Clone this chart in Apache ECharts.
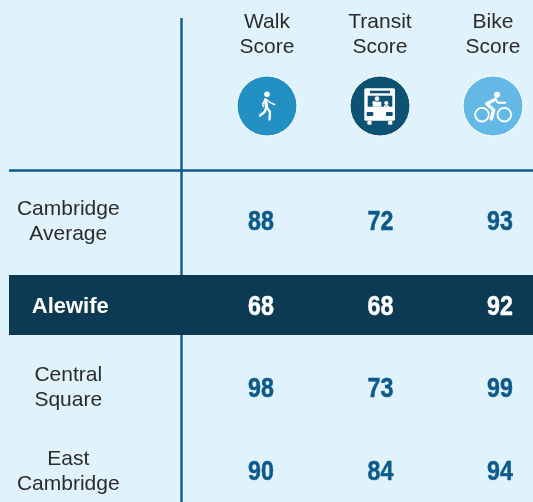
<!DOCTYPE html>
<html>
<head>
<meta charset="utf-8">
<script src="https://cdn.jsdelivr.net/npm/echarts@6/dist/echarts.min.js"></script>
<style>
  html, body { margin: 0; padding: 0; background: #e0f3fc; }
  #div1 { width: 533px; height: 502px; }
</style>
</head>
<body>
<div id="div1"></div>
<script>
var headers = ['Walk\nScore', 'Transit\nScore', 'Bike\nScore'];
var columns = ['Walk', 'Transit', 'Bike'];
var rows = ['Cambridge\nAverage', 'Alewife', 'Central\nSquare', 'East\nCambridge'];
var walkScore = [88, 68, 98, 90];
var transitScore = [72, 68, 73, 84];
var bikeScore = [93, 92, 99, 94];

(function () {
  var lineColor = '#0f5a86';
  var bandColor = '#0c3a52';
  var textColor = '#2b2b2b';
  var iconColors = ['#2390c3', '#0d5273', '#64b8e6'];

  // small pictures inside the circles, coordinates are relative to circle centre
  function line(points, width) {
    return {
      type: 'polyline',
      shape: { points: points },
      style: { stroke: '#fff', fill: null, lineWidth: width, lineCap: 'round', lineJoin: 'round' }
    };
  }
  function dot(cx, cy, r, color) {
    return { type: 'circle', shape: { cx: cx, cy: cy, r: r }, style: { fill: color || '#fff' } };
  }
  function box(x, y, w, h, color, r) {
    return { type: 'rect', shape: { x: x, y: y, width: w, height: h, r: r || 0 }, style: { fill: color || '#fff' } };
  }
  function ring(cx, cy, r) {
    return { type: 'circle', shape: { cx: cx, cy: cy, r: r }, style: { fill: null, stroke: '#fff', lineWidth: 1.8 } };
  }
  function walker() {
    return [
      dot(0, -11.7, 2.8),
      line([[-1.5, -6], [-0.5, 1]], 3.4),
      line([[-0.5, 1], [-2.5, 6], [-7, 9.5]], 2.3),
      line([[-0.5, 1], [3, 6], [2.5, 13.5]], 2.3),
      line([[-1.5, -6.5], [-4.5, -2], [-3.5, 0.5]], 1.5),
      line([[-0.5, -6.5], [3, -3.5], [7.5, -1.5]], 1.5)
    ];
  }
  function bus() {
    var dark = iconColors[1];
    return [
      box(-15.7, -17.7, 30.7, 32.4, '#fff', 1.5),
      box(-10, -15.3, 20, 2.6, dark),
      box(-12.3, -10.3, 24.6, 11, dark),
      dot(-3, -7.3, 2.4),
      box(-7.3, -4.3, 8.6, 5),
      dot(-6, -3.5, 1.6),
      dot(6.3, -3, 2.1),
      box(4, -0.7, 5, 1.4),
      box(-13.3, 6, 6.6, 4, dark, 1),
      box(6, 6, 6.7, 4, dark, 1),
      box(-12.7, 14.7, 4.4, 4, '#fff', 1.5),
      box(8, 14.7, 4.4, 4, '#fff', 1.5)
    ];
  }
  function bike() {
    return [
      ring(-11, 8.7, 6.8),
      ring(11.3, 8.7, 6.8),
      dot(4, -11.3, 3),
      line([[2.3, -6.7], [-6.2, -2.2], [0.7, 4], [-1.7, 13]], 3.4),
      line([[2.3, -6.7], [5, -3.3], [12.3, -3.3]], 2)
    ];
  }
  var iconMakers = [walker, bus, bike];

  // numbers are condensed in the original, so squeeze the bold face sideways
  function numberSeries(values, colIndex) {
    return {
      type: 'custom',
      xAxisIndex: 0,
      yAxisIndex: 0,
      z: 5,
      silent: true,
      data: values.map(function (v, i) {
        return [colIndex, i, v];
      }),
      renderItem: function (params, api) {
        var row = api.value(1);
        var p = api.coord([api.value(0), row]);
        var color = row === 1 ? '#fff' : '#0d5a8a';
        return {
          type: 'text',
          x: p[0],
          y: p[1] + (row === 1 ? 3 : 1.5),
          scaleX: 0.86,
          style: {
            text: String(api.value(2)),
            align: 'center',
            verticalAlign: 'middle',
            fill: color,
            stroke: color,
            lineWidth: 0.5,
            font: 'bold 27px "Liberation Sans"'
          }
        };
      }
    };
  }

  var myChart = echarts.init(document.getElementById('div1'), null, { renderer: 'canvas' });
  var option = {
    backgroundColor: '#e0f3fc',
    animation: false,
    grid: [
      // body of the table, runs past the window edge like the original
      { left: 201.25, top: 179.83, width: 358.5, height: 333.33, outerBoundsMode: 'none' },
      // header with the icons
      { left: 210.5, top: 76, width: 339, height: 60, outerBoundsMode: 'none' }
    ],
    xAxis: [
      {
        type: 'category',
        gridIndex: 0,
        data: columns,
        axisLine: { show: false },
        axisTick: { show: false },
        axisLabel: { show: false },
        splitLine: { show: false }
      },
      {
        type: 'category',
        gridIndex: 1,
        position: 'top',
        data: headers,
        axisLine: { show: false },
        axisTick: { show: false },
        splitLine: { show: false },
        axisLabel: {
          interval: 0,
          margin: 16,
          color: textColor,
          fontFamily: '"Liberation Sans"',
          fontSize: 21,
          lineHeight: 25
        }
      }
    ],
    yAxis: [
      {
        type: 'category',
        gridIndex: 0,
        inverse: true,
        z: 6,
        data: rows,
        axisLine: { show: false },
        axisTick: { show: false },
        splitLine: { show: false },
        axisLabel: {
          interval: 0,
          margin: 133,
          align: 'center',
          color: textColor,
          fontFamily: '"Liberation Sans"',
          fontSize: 21,
          lineHeight: 25,
          formatter: function (value) {
            return value === 'Alewife' ? '{hi|' + value + '}' : value;
          },
          rich: {
            hi: {
              color: '#fff',
              fontFamily: '"Liberation Sans"',
              fontWeight: 'bold',
              fontSize: 22,
              padding: [4, 0, 0, 4]
            }
          }
        }
      },
      {
        type: 'category',
        gridIndex: 1,
        data: ['icons'],
        axisLine: { show: false },
        axisTick: { show: false },
        axisLabel: { show: false },
        splitLine: { show: false }
      }
    ],
    graphic: [
      { type: 'line', z: 1, shape: { x1: 181.5, y1: 18, x2: 181.5, y2: 502 }, style: { stroke: lineColor, lineWidth: 2.4 } },
      { type: 'line', z: 1, shape: { x1: 9, y1: 170.5, x2: 533, y2: 170.5 }, style: { stroke: lineColor, lineWidth: 2.4 } },
      { type: 'rect', z: 2, shape: { x: 9, y: 275, width: 524, height: 60 }, style: { fill: bandColor } }
    ],
    series: [
      numberSeries(walkScore, 0),
      numberSeries(transitScore, 1),
      numberSeries(bikeScore, 2),
      {
        type: 'custom',
        xAxisIndex: 1,
        yAxisIndex: 1,
        z: 5,
        silent: true,
        data: [[0, 0], [1, 0], [2, 0]],
        renderItem: function (params, api) {
          var p = api.coord([api.value(0), api.value(1)]);
          var i = params.dataIndex;
          return {
            type: 'group',
            x: p[0],
            y: p[1],
            children: [{
              type: 'circle',
              shape: { cx: 0, cy: 0, r: 30 },
              style: { fill: iconColors[i], stroke: '#fff', lineWidth: 1 }
            }].concat(iconMakers[i]())
          };
        }
      }
    ]
  };
  myChart.setOption(option);
})();
</script>
</body>
</html>
